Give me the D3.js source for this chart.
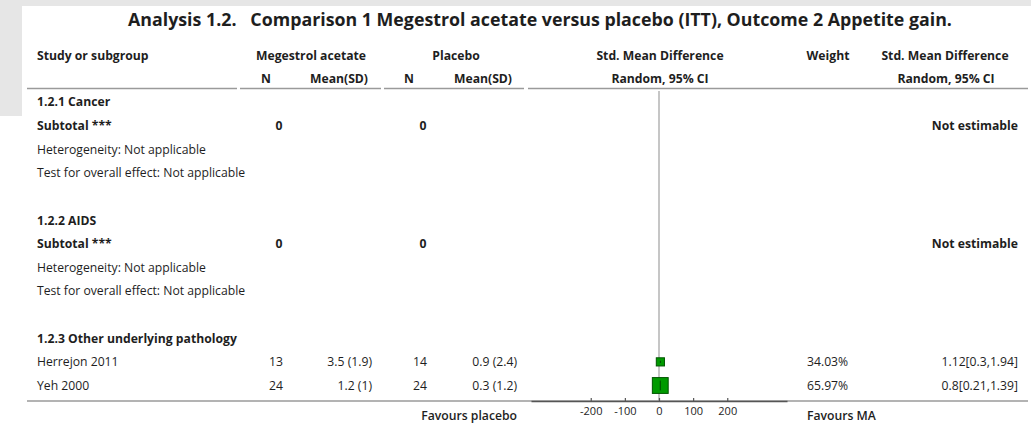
<!DOCTYPE html>
<html><head><meta charset="utf-8">
<script src="https://cdn.jsdelivr.net/npm/d3@7"></script>
<style>
html,body{margin:0;padding:0;background:#fff;}
svg{display:block;font-family:"Open Sans","Noto Sans",sans-serif;}
</style></head>
<body>
<svg id="c" width="1031" height="448"></svg>
<script>
// ---- data ----
const title = "Analysis 1.2.   Comparison 1 Megestrol acetate versus placebo (ITT), Outcome 2 Appetite gain.";
const subgroups = ["1.2.1 Cancer", "1.2.2 AIDS", "1.2.3 Other underlying pathology"];
const subgroupNMA = [0, 0];
const subgroupNPl = [0, 0];
const studies = ["Herrejon 2011", "Yeh 2000"];
const maN = [13, 24];
const maMean = [3.5, 1.2];
const maSD = [1.9, 1];
const plN = [14, 24];
const plMean = [0.9, 0.3];
const plSD = [2.4, 1.2];
const smd = [1.12, 0.8];
const ciLow = [0.3, 0.21];
const ciHigh = [1.94, 1.39];
const weights = [34.03, 65.97];
const axisTicks = [-200, -100, 0, 100, 200];

// ---- drawing ----
const svg = d3.select("#c");
const ink = "#1e1e1e";
const FS = 12.2;

// background frame
svg.append("rect").attr("x",0).attr("y",0).attr("width",1031).attr("height",448).attr("fill","#fff");
svg.append("rect").attr("x",0).attr("y",0).attr("width",1031).attr("height",6).attr("fill","#e6e6e6");
svg.append("rect").attr("x",0).attr("y",0).attr("width",22).attr("height",116).attr("fill","#e6e6e6");

// title
svg.append("text").attr("x",540).attr("y",26).attr("text-anchor","middle")
  .attr("font-size",17.8).attr("font-weight","bold").attr("fill",ink).attr("xml:space","preserve").text(title);

// header
const hdr = svg.append("g").attr("font-size",FS).attr("font-weight","bold").attr("fill",ink);
const H1 = 60, H2 = 83;
[["Study or subgroup",37,"start",H1],["Megestrol acetate",311,"middle",H1],["Placebo",456,"middle",H1],
 ["Std. Mean Difference",660,"middle",H1],["Weight",828,"middle",H1],["Std. Mean Difference",945,"middle",H1],
 ["N",266,"middle",H2],["Mean(SD)",368,"end",H2],["N",409,"middle",H2],["Mean(SD)",512,"end",H2],
 ["Random, 95% CI",660,"middle",H2],["Random, 95% CI",946,"middle",H2]]
 .forEach(([t,x,a,y]) => hdr.append("text").attr("x",x).attr("y",y).attr("text-anchor",a).text(t));

// header rule segments
[[27,237],[240,381],[384,524],[528,1028]].forEach(([a,b]) =>
  svg.append("line").attr("x1",a).attr("x2",b).attr("y1",88.5).attr("y2",88.5).attr("stroke","#9a9a9a").attr("stroke-width",1.5));

// row scale
const row = d3.scaleLinear().domain([0,12]).range([102,385.5]);
const x = d3.scaleLinear().domain([-375,375]).range([531,787]);
const size = d3.scaleLinear().domain([0,100]).range([0,24]);

// zero line
svg.append("line").attr("x1",x(0)).attr("x2",x(0)).attr("y1",91).attr("y2",401).attr("stroke","#a0a0a0").attr("stroke-width",1.2);

const body = svg.append("g").attr("font-size",FS).attr("fill",ink);
function txt(t,xx,i,anchor,bold){
  body.append("text").attr("x",xx).attr("y",row(i)).attr("dy","0.36em").attr("text-anchor",anchor||"start")
    .attr("font-weight",bold?"bold":"normal").text(t);
}
// subgroups 1 and 2
[0,1].forEach(g => {
  const b = g*5;
  txt(subgroups[g],37,b,"start",true);
  txt("Subtotal ***",37,b+1,"start",true);
  txt(String(subgroupNMA[g]),279,b+1,"middle",true);
  txt(String(subgroupNPl[g]),423,b+1,"middle",true);
  txt("Not estimable",1018,b+1,"end",true);
  txt("Heterogeneity: Not applicable",37,b+2,"start",false);
  txt("Test for overall effect: Not applicable",37,b+3,"start",false);
});
// subgroup 3
txt(subgroups[2],37,10,"start",true);
studies.forEach((s,k) => {
  const i = 11+k;
  txt(s,37,i);
  txt(String(maN[k]),283,i,"end");
  txt(`${maMean[k]} (${maSD[k]})`,372,i,"end");
  txt(String(plN[k]),427,i,"end");
  txt(`${plMean[k]} (${plSD[k]})`,517,i,"end");
  txt(weights[k].toFixed(2)+"%",807,i,"start");
  txt(`${smd[k]}[${ciLow[k]},${ciHigh[k]}]`,1018,i,"end");
  // CI line
  svg.append("line").attr("x1",x(ciLow[k])).attr("x2",x(ciHigh[k])).attr("y1",row(i)).attr("y2",row(i)).attr("stroke","#003300");
  const s2 = size(weights[k]);
  svg.append("rect").attr("x",x(smd[k])-s2/2+1).attr("y",row(i)-s2/2).attr("width",s2).attr("height",s2)
    .attr("fill","#009a00").attr("stroke","#005500").attr("stroke-width",1);
  svg.append("line").attr("x1",x(smd[k])+1).attr("x2",x(smd[k])+1).attr("y1",row(i)-s2/2+3).attr("y2",row(i)+s2/2-3)
    .attr("stroke","#003300").attr("stroke-width",0.8);
});

// bottom rule
svg.append("line").attr("x1",27).attr("x2",1028).attr("y1",401).attr("y2",401).attr("stroke","#9a9a9a").attr("stroke-width",1.5);
const ax = svg.append("g").attr("transform","translate(0,401)")
  .call(d3.axisBottom(x).tickValues(axisTicks).tickFormat(d=>String(d)).tickSizeInner(-3).tickSizeOuter(0).tickPadding(6));
ax.select(".domain").attr("stroke","#555").attr("stroke-width",1.5);
ax.selectAll(".tick line").attr("stroke","#555").attr("stroke-width",1.2);
ax.selectAll(".tick text").attr("font-family","'Open Sans',sans-serif").attr("font-size",11).attr("fill",ink);

svg.append("text").attr("x",517).attr("y",416).attr("dy","0.36em").attr("text-anchor","end").attr("font-size",FS).attr("font-weight","600").attr("fill",ink).text("Favours placebo");
svg.append("text").attr("x",807).attr("y",416).attr("dy","0.36em").attr("text-anchor","start").attr("font-size",FS).attr("font-weight","600").attr("fill",ink).text("Favours MA");
</script>
</body></html>
